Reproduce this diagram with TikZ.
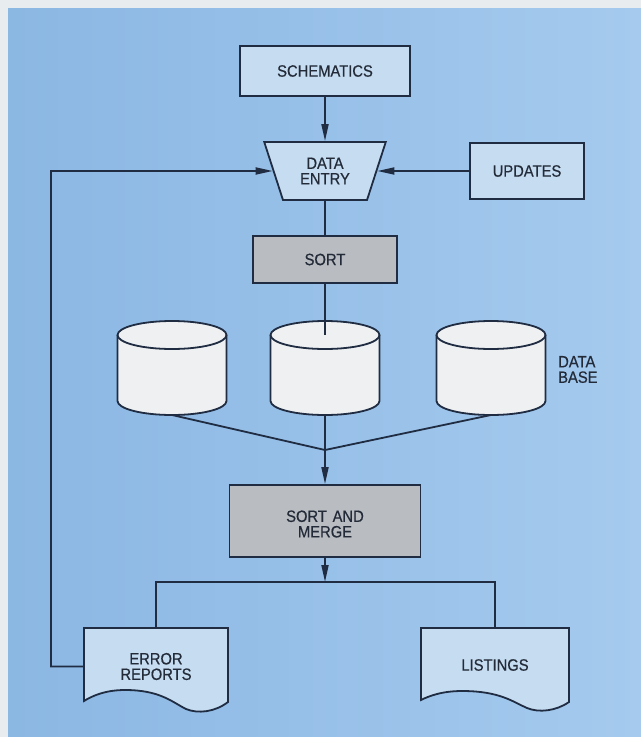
\documentclass[tikz,border=0pt]{standalone}
\usepackage{fontspec}
\setmainfont[FakeStretch=0.9,FakeBold=0.5]{Liberation Sans}
\usetikzlibrary{shapes.geometric,arrows.meta,calc}
\definecolor{bgmargin}{HTML}{E9ECEF}
\definecolor{blueL}{HTML}{8BB7E3}
\definecolor{blueR}{HTML}{A5CAEE}
\definecolor{boxfill}{HTML}{C6DCF1}
\definecolor{grayfill}{HTML}{B9BCC1}
\definecolor{cylfill}{HTML}{EEF0F2}
\definecolor{ink}{HTML}{1F2C42}
\definecolor{txt}{HTML}{232B38}
\begin{document}
\begin{tikzpicture}[x=1bp,y=-1bp,
  lbl/.style={font=\fontsize{16.4bp}{15.5bp}\selectfont, text=txt, align=center, inner sep=0pt},
  procbox/.style={lbl, rectangle, draw=ink, line width=1.8bp, fill=boxfill},
  graybox/.style={procbox, fill=grayfill},
  conn/.style={draw=ink, line width=1.8bp},
  arr/.style={conn, -{Triangle[length=17bp,width=7bp]}},
  docshape/.style={draw=ink, line width=1.8bp, fill=boxfill},
  cylshape/.style={draw=ink, line width=1.8bp, fill=cylfill}]
\useasboundingbox (0,0) rectangle (641,737);
\fill[bgmargin] (0,0) rectangle (641,737);
\shade[left color=blueL, right color=blueR] (8,9) rectangle (641,737);

% document shapes
\filldraw[docshape] (84,628) -- (228,628) -- (228,702)
  .. controls (215,712) and (198,714) .. (186,709)
  .. controls (172,702) and (160,690) .. (125,690)
  .. controls (105,690) and (92,696) .. (84,701) -- cycle;
\filldraw[docshape] (421,628) -- (569,628) -- (569,702)
  .. controls (556,711) and (539,713) .. (527,708)
  .. controls (513,702) and (500,691) .. (462,691)
  .. controls (442,691) and (429,696) .. (421,700) -- cycle;

% cylinders
\foreach \n/\cx in {cylA/172, cylB/325, cylC/491} {
  \filldraw[cylshape] (\cx-54.5,335) -- (\cx-54.5,401)
    arc[start angle=180, end angle=0, x radius=54.5, y radius=14] -- (\cx+54.5,335);
  \filldraw[cylshape] (\cx,335) ellipse[x radius=54.5, y radius=14];
  \coordinate (\n) at (\cx,415);
}
\coordinate (cylBtop) at (325,335);

% nodes
\node[procbox, minimum width=170bp, minimum height=50bp] (schem) at (325,71) {SCHEMATICS};
\node[lbl, trapezium, draw=ink, line width=1.8bp, fill=boxfill, shape border rotate=180,
  trapezium angle=67.5, trapezium stretches=true, minimum width=122bp, minimum height=58bp]
  (dentry) at (325,171) {DATA\\ENTRY};
\node[procbox, minimum width=114bp, minimum height=56bp] (upd) at (527,171) {UPDATES};
\node[graybox, minimum width=144bp, minimum height=47bp] (sort) at (325,259.5) {SORT};
\node[graybox, minimum width=191bp, minimum height=72bp] (merge) at (325,521) {};
\node[lbl] (mergetxt) at (325,524) {SORT\hspace{0.35em}AND\\MERGE};
\node[lbl, align=left, anchor=west] (dbl) at (558,369.5) {DATA\\BASE};
\node[lbl, minimum width=144bp, minimum height=77bp] (err) at (156,666.5) {ERROR\\REPORTS};
\node[lbl, minimum width=148bp, minimum height=74bp] (lst) at (495,665) {LISTINGS};

\coordinate (join) at (325,450);
\coordinate (br) at (325,582);
\coordinate (fb) at (51,171);

% connectors
\draw[arr] (schem.south) -- (dentry);
\draw[arr] (upd) -- (dentry);
\draw[conn] (dentry) -- (sort);
\draw[conn] (sort) -- (cylBtop);
\draw[conn] (cylA) -- (join) -- (cylC);
\draw[conn] (cylB) -- (join);
\draw[arr] (join) -- (merge);
\draw[arr] (merge) -- (br);
\draw[conn] (err.north) |- (br) -| (lst.north);
\draw[arr] (err.west) -| (fb) -- (dentry);
\end{tikzpicture}
\end{document}
